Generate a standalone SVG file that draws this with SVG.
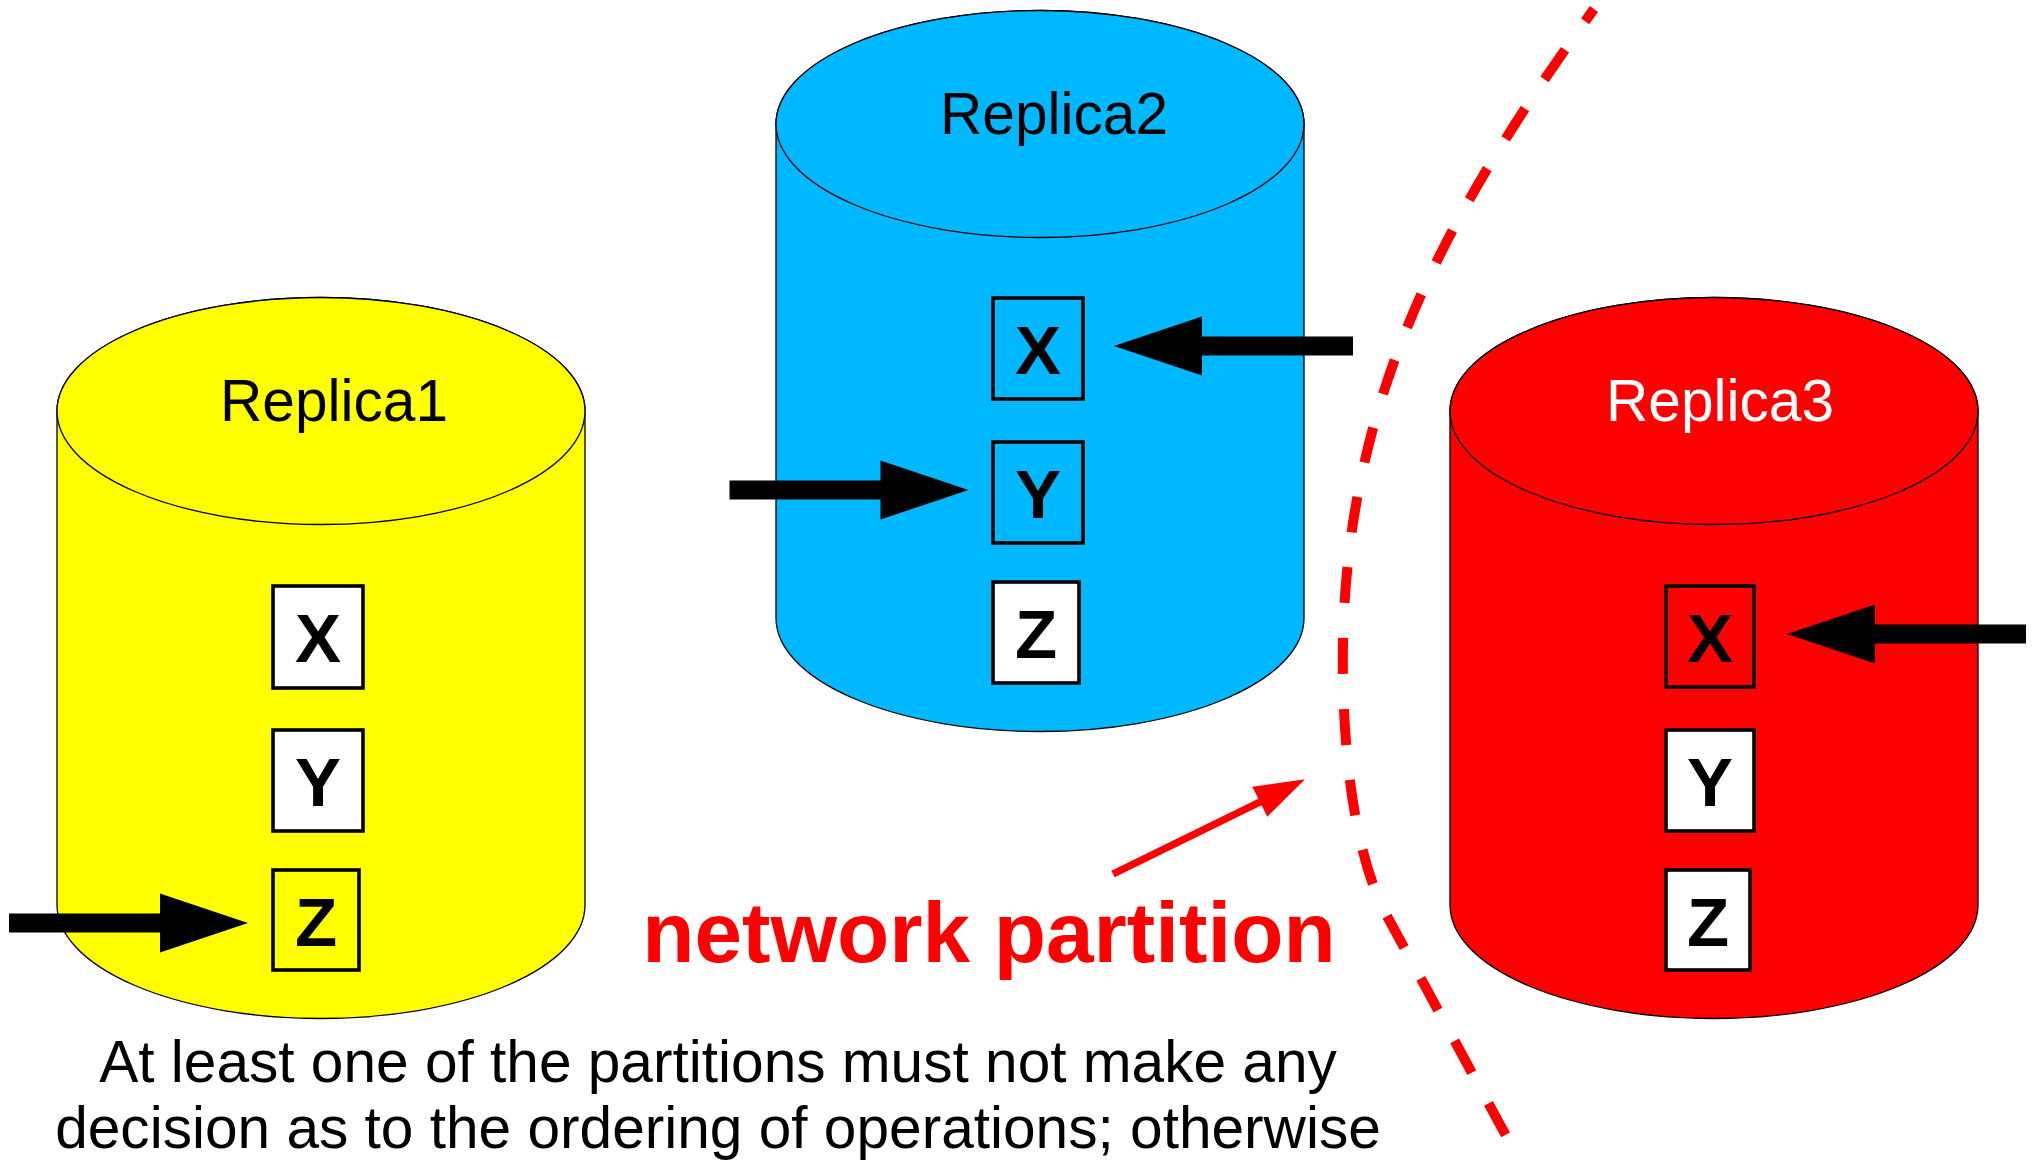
<svg xmlns="http://www.w3.org/2000/svg" xmlns:xlink="http://www.w3.org/1999/xlink" width="2033" height="1162" viewBox="0 0 2033 1162">
<style>
.cyl{stroke:#000;stroke-width:1.3}
.lbl{font-family:"Liberation Sans",Arial,sans-serif;font-size:58.6px;text-anchor:middle}
.box{stroke:#000;stroke-width:3.6}
.let{font-family:"Liberation Sans",Arial,sans-serif;font-size:69px;font-weight:bold;text-anchor:middle;fill:#000}
.arrow{fill:#000}
.part{font-family:"Liberation Sans",Arial,sans-serif;font-size:85.5px;font-weight:bold;fill:#ff0000;text-anchor:middle}
.note{font-family:"Liberation Sans",Arial,sans-serif;font-size:58.6px;fill:#000;text-anchor:middle}
</style>
<defs>
<path id="arr" d="M0,0 L-88,-29.5 L-88,-9.5 L-239,-9.5 L-239,9.5 L-88,9.5 L-88,29.5 Z"/>
</defs>
<rect width="2033" height="1162" fill="#fff"/>

<g id="replica1">
<path class="cyl" fill="#ffff00" d="M57,411 L57,905 A264,113.5 0 0 0 585,905 L585,411 A264,113.5 0 0 0 57,411 Z"/>
<ellipse class="cyl" fill="#ffff00" cx="321" cy="411" rx="264" ry="113.5"/>
<text class="lbl" x="334" y="421" fill="#000">Replica1</text>
<g id="r1x"><rect class="box" fill="#fff" x="273" y="586" width="90" height="102"/><text class="let" x="318" y="662">X</text></g>
<g id="r1y"><rect class="box" fill="#fff" x="273" y="730" width="90" height="101"/><text class="let" x="318" y="806">Y</text></g>
<g id="r1z"><rect class="box" fill="none" x="273" y="870" width="86" height="100"/><text class="let" x="316" y="946">Z</text></g>
</g>

<g id="replica2">
<path class="cyl" fill="#00b8ff" d="M776,124 L776,618 A264,113.5 0 0 0 1304,618 L1304,124 A264,113.5 0 0 0 776,124 Z"/>
<ellipse class="cyl" fill="#00b8ff" cx="1040" cy="124" rx="264" ry="113.5"/>
<text class="lbl" x="1054" y="134" fill="#000">Replica2</text>
<g id="r2x"><rect class="box" fill="none" x="993" y="298" width="90" height="101"/><text class="let" x="1038" y="374">X</text></g>
<g id="r2y"><rect class="box" fill="none" x="993" y="442" width="90" height="101"/><text class="let" x="1038" y="518">Y</text></g>
<g id="r2z"><rect class="box" fill="#fff" x="993" y="582" width="86" height="101"/><text class="let" x="1036" y="658">Z</text></g>
</g>

<g id="replica3">
<path class="cyl" fill="#ff0000" d="M1450,411 L1450,905 A264,113.5 0 0 0 1978,905 L1978,411 A264,113.5 0 0 0 1450,411 Z"/>
<ellipse class="cyl" fill="#ff0000" cx="1714" cy="411" rx="264" ry="113.5"/>
<text class="lbl" x="1720" y="421" fill="#fff">Replica3</text>
<g id="r3x"><rect class="box" fill="none" x="1666" y="586" width="88" height="101"/><text class="let" x="1710" y="662">X</text></g>
<g id="r3y"><rect class="box" fill="#fff" x="1666" y="730" width="88" height="101"/><text class="let" x="1710" y="806">Y</text></g>
<g id="r3z"><rect class="box" fill="#fff" x="1666" y="870" width="84" height="100"/><text class="let" x="1708" y="946">Z</text></g>
</g>

<g id="partition-line">
<path d="M1594,9 C1440,222 1338,410 1343,680 C1345,780 1359.6,866 1387,916 L1530,1180" fill="none" stroke="#ff0000" stroke-width="10" stroke-dasharray="36 35" stroke-dashoffset="21"/>
</g>

<g id="connectors">
<use class="arrow" xlink:href="#arr" transform="translate(248,923)"/>
<use class="arrow" xlink:href="#arr" transform="translate(1114,346) scale(-1,1)"/>
<use class="arrow" xlink:href="#arr" transform="translate(968.5,490)"/>
<use class="arrow" xlink:href="#arr" transform="translate(1787,634) scale(-1,1)"/>
<line x1="1113" y1="874" x2="1262" y2="801" stroke="#ff0000" stroke-width="7.5"/>
<polygon points="1305,779.3 1252.3,786.7 1267.3,816.7" fill="#ff0000"/>
</g>

<g id="labels">
<text class="part" x="989" y="962">network partition</text>
<text class="note" x="718" y="1082">At least one of the partitions must not make any</text>
<text class="note" x="718" y="1148">decision as to the ordering of operations; otherwise</text>
</g>
</svg>
